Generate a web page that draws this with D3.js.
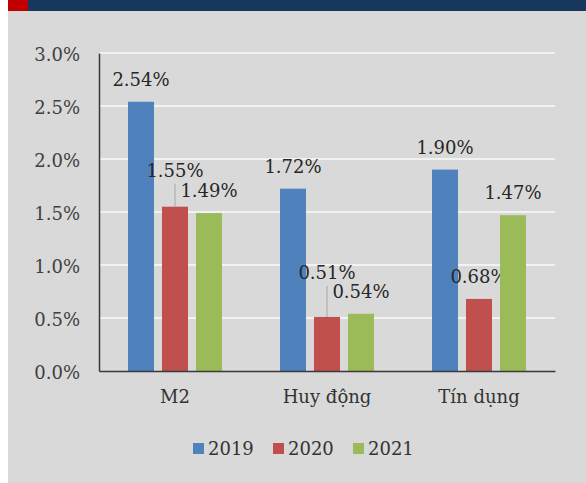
<!DOCTYPE html>
<html>
<head>
<meta charset="utf-8">
<script src="https://cdn.jsdelivr.net/npm/d3@7"></script>
<style>
  html, body { margin: 0; padding: 0; background: #ffffff; }
  svg { display: block; }
</style>
</head>
<body>
<svg></svg>
<script>
const categories = ["M2", "Huy động", "Tín dụng"];
const series = ["2019", "2020", "2021"];
const values2019 = [2.54, 1.72, 1.90];
const values2020 = [1.55, 0.51, 0.68];
const values2021 = [1.49, 0.54, 1.47];
const yTicks = [0, 0.5, 1.0, 1.5, 2.0, 2.5, 3.0];

const width = 586,
      height = 483,
      colors = ["#4f81bd", "#c0504d", "#9bbb59"],
      font = "'DejaVu Serif', serif",
      plot = { left: 99, right: 555, top: 53, bottom: 371 };

// labels that Excel pushed up with a leader line (extra lift, px)
const lifted = { "M2|2020": 14, "Huy động|2020": 22 };

const svg = d3.select("svg")
  .attr("width", width)
  .attr("height", height);

// page background + header strip
svg.append("rect").attr("x", 8).attr("y", 0)
  .attr("width", width - 8).attr("height", height).attr("fill", "#d9d9d9");
svg.append("rect").attr("x", 8).attr("y", 0)
  .attr("width", width - 8).attr("height", 11).attr("fill", "#17375e");
svg.append("rect").attr("x", 8).attr("y", 0)
  .attr("width", 20).attr("height", 11).attr("fill", "#c00000");

const y = d3.scaleLinear().domain([0, 3]).range([plot.bottom, plot.top]);
const x0 = d3.scaleBand().domain(categories).range([plot.left, plot.right]);
const x1 = d3.scaleBand().domain(series).range([29, 123]).paddingInner(8 / 34);

// gridlines
svg.append("g").selectAll("line")
  .data(yTicks.filter(d => d > 0))
  .enter().append("line")
  .attr("x1", plot.left).attr("x2", plot.right)
  .attr("y1", d => y(d)).attr("y2", d => y(d))
  .attr("stroke", "#f2f2f2").attr("stroke-width", 2);

// y axis
const yAxis = svg.append("g")
  .attr("transform", "translate(" + plot.left + ",0)")
  .call(d3.axisLeft(y).tickValues(yTicks).tickSize(0).tickPadding(19)
    .tickFormat(d => d.toFixed(1) + "%"));
yAxis.select(".domain").attr("stroke", "#3a3a3a").attr("stroke-width", 1.5);
yAxis.selectAll("text")
  .attr("font-family", font).attr("font-size", 18).attr("fill", "#3f3f3f")
  .attr("dy", "0.42em");

// bars
const rows = categories.map((c, i) => ({
  cat: c,
  vals: [values2019[i], values2020[i], values2021[i]]
}));

const groups = svg.append("g").selectAll("g")
  .data(rows)
  .enter().append("g")
  .attr("transform", d => "translate(" + x0(d.cat) + ",0)");

const items = groups.selectAll("g")
  .data(d => d.vals.map((v, j) => ({ cat: d.cat, s: series[j], v: v, j: j })))
  .enter().append("g");

items.append("rect")
  .attr("x", d => x1(d.s))
  .attr("y", d => y(d.v))
  .attr("width", x1.bandwidth())
  .attr("height", d => y(0) - y(d.v))
  .attr("fill", d => colors[d.j]);

// leader lines
items.filter(d => lifted[d.cat + "|" + d.s])
  .append("line")
  .attr("x1", d => x1(d.s) + x1.bandwidth() / 2)
  .attr("x2", d => x1(d.s) + x1.bandwidth() / 2)
  .attr("y1", d => y(d.v) - 16 - lifted[d.cat + "|" + d.s] + 7)
  .attr("y2", d => y(d.v))
  .attr("stroke", "#a6a6a6").attr("stroke-width", 1);

// data labels
items.append("text")
  .attr("x", d => x1(d.s) + x1.bandwidth() / 2)
  .attr("y", d => y(d.v) - 16 - (lifted[d.cat + "|" + d.s] || 0))
  .attr("text-anchor", "middle")
  .attr("font-family", font).attr("font-size", 18).attr("fill", "#262626")
  .text(d => d.v.toFixed(2) + "%");

// x axis
const xAxis = svg.append("g")
  .attr("transform", "translate(0," + plot.bottom + ")")
  .call(d3.axisBottom(x0).tickSize(0).tickPadding(19));
xAxis.select(".domain").attr("stroke", "#3a3a3a").attr("stroke-width", 1.5);
xAxis.selectAll("text")
  .attr("font-family", font).attr("font-size", 18).attr("fill", "#333333");

// legend
const legendX = [193, 273, 353];
const legend = svg.append("g").selectAll("g")
  .data(series)
  .enter().append("g")
  .attr("transform", (d, i) => "translate(" + legendX[i] + ",443)");
legend.append("rect")
  .attr("width", 11).attr("height", 11)
  .attr("fill", (d, i) => colors[i]);
legend.append("text")
  .attr("x", 15).attr("y", 12)
  .attr("font-family", font).attr("font-size", 18).attr("fill", "#333333")
  .text(d => d);
</script>
</body>
</html>
